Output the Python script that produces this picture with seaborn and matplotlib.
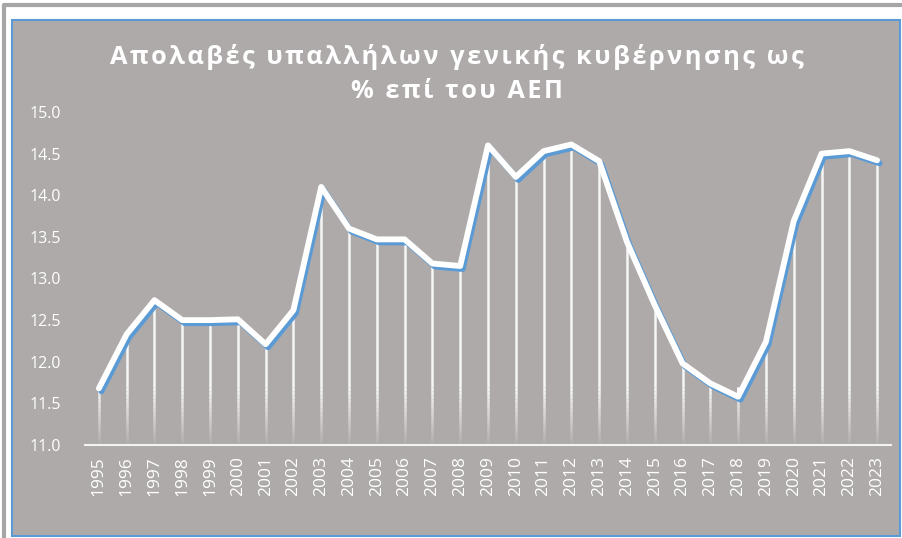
import numpy as np
import pandas as pd
import matplotlib
matplotlib.use('Agg')
import matplotlib.pyplot as plt
import matplotlib.patheffects as pe
from matplotlib.patches import Rectangle
from matplotlib.lines import Line2D
import seaborn as sns

# Δεδομένα: απολαβές υπαλλήλων γενικής κυβέρνησης, % του ΑΕΠ
years = list(range(1995, 2024))
values = [11.68, 12.33, 12.74, 12.50, 12.50, 12.51, 12.21, 12.62, 14.10, 13.60,
          13.47, 13.47, 13.18, 13.15, 14.60, 14.22, 14.53, 14.61, 14.41, 13.44,
          12.68, 11.98, 11.74, 11.58, 12.24, 13.69, 14.50, 14.53, 14.42]
y_ticks = [11.0, 11.5, 12.0, 12.5, 13.0, 13.5, 14.0, 14.5, 15.0]
title_lines = ['Απολαβές υπαλλήλων γενικής κυβέρνησης ως', '% επί του ΑΕΠ']

PANEL = '#AEAAAA'
BLUE = '#5B9BD5'

df = pd.DataFrame({'year': years, 'value': values})

sns.set_theme(style='white')
plt.rcParams['font.family'] = ['Open Sans', 'DejaVu Sans']

fig = plt.figure(figsize=(9.02, 5.38), dpi=100)
fig.patch.set_facecolor('white')

# πλαίσιο γύρω από το γράφημα
fig.add_artist(Line2D([0.0039, 0.0039, 1.0], [0.0, 0.9898, 0.9898],
                      transform=fig.transFigure, color='#A6A6A6', lw=3))
fig.add_artist(Rectangle((0.0133, 0.0037), 0.9845, 0.9591, transform=fig.transFigure,
                         facecolor=PANEL, edgecolor=BLUE, lw=1.5, zorder=0))

ax = fig.add_axes([0.0942, 0.1729, 0.8936, 0.6189])
ax.set_facecolor('none')

# κατακόρυφες γραμμές με σβήσιμο προς τα κάτω
fade_top = 11.7
for x, v in zip(df['year'], df['value']):
    ax.vlines(x, fade_top, v, color='white', lw=1.8, alpha=0.9, zorder=1)
    steps = np.linspace(11.0, fade_top, 15)
    for i in range(len(steps) - 1):
        ax.vlines(x, steps[i], steps[i + 1], color='white', lw=1.8,
                  alpha=0.9 * (i + 1) / (len(steps) - 1), zorder=1)

sns.lineplot(data=df, x='year', y='value', ax=ax, color='white', lw=4.2,
             zorder=3,
             path_effects=[pe.SimpleLineShadow(offset=(1.8, -2.2), shadow_color=BLUE,
                                               alpha=1.0),
                           pe.Normal()])

ax.set_xlim(1994.5, 2023.5)
ax.set_ylim(11.0, 15.0)
ax.set_yticks(y_ticks)
ax.set_yticklabels([f'{t:.1f}' for t in y_ticks])
ax.set_xticks(years)
ax.set_xticklabels([str(y) for y in years], rotation=90)
ax.tick_params(axis='both', colors='white', length=0)
ax.tick_params(axis='y', pad=17, labelsize=11.5)
ax.tick_params(axis='x', pad=8, labelsize=12.5)
ax.set_xlabel('')
ax.set_ylabel('')
for s in ['top', 'right', 'left']:
    ax.spines[s].set_visible(False)
ax.spines['bottom'].set_color('#F2F2F2')
ax.spines['bottom'].set_linewidth(1.5)
ax.grid(False)

# τίτλος με αραιωμένα γράμματα (hair space ανάμεσα)
spaced = '\n'.join('\u200a'.join(line) for line in title_lines)
fig.text(0.507, 0.862, spaced, ha='center', va='center', color='white',
         fontsize=18.3, fontweight='bold', linespacing=1.45)

fig.savefig('out.png', dpi=100, facecolor=fig.get_facecolor())
